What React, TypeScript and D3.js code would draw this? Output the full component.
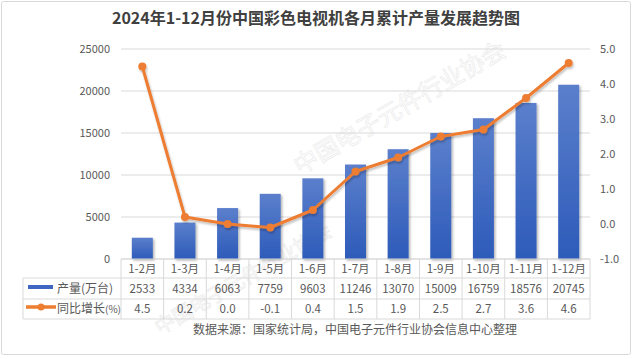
import React from "react";
import * as d3 from "d3";

const categories = ["1-2月", "1-3月", "1-4月", "1-5月", "1-6月", "1-7月", "1-8月", "1-9月", "1-10月", "1-11月", "1-12月"];
const production = [2533, 4334, 6063, 7759, 9603, 11246, 13070, 15009, 16759, 18576, 20745];
const growth = [4.5, 0.2, 0.0, -0.1, 0.4, 1.5, 1.9, 2.5, 2.7, 3.6, 4.6];
const leftTicks = [0, 5000, 10000, 15000, 20000, 25000];
const rightTicks = [-1, 0, 1, 2, 3, 4, 5];
const title = "2024年1-12月份中国彩色电视机各月累计产量发展趋势图";
const seriesNames = ["产量(万台)", "同比增长(%)"];
const source = "数据来源：国家统计局，中国电子元件行业协会信息中心整理";
const watermark = "中国电子元件行业协会";

const W = 633, H = 359;
const plotLeft = 121, plotRight = 590, plotTop = 49, plotBottom = 259;
const FONT = "'Microsoft YaHei', 'Noto Sans CJK SC', 'Noto Sans', sans-serif";
const TXT = "#595959";
const GRID = "#d9d9d9";
const ORANGE = "#ED7D31";

export default function App() {
  const x = d3.scaleBand<string>().domain(categories).range([plotLeft, plotRight]).paddingInner(0).paddingOuter(0);
  const yL = d3.scaleLinear().domain([0, 25000]).range([plotBottom, plotTop]);
  const yR = d3.scaleLinear().domain([-1, 5]).range([plotBottom, plotTop]);
  const bw = 21;
  const line = d3.line<number>().x((_, i) => x(categories[i])! + x.bandwidth() / 2).y((d) => yR(d));
  const bandW = x.bandwidth();
  const rowTops = [259, 278, 299, 319];
  const legendLeft = 23;

  return (
    <svg width={W} height={H} style={{ position: "absolute", left: 0, top: 0, fontFamily: FONT }}>
      <defs>
        <linearGradient id="barGrad" x1="0" y1="0" x2="0" y2="1">
          <stop offset="0%" stopColor="#5B7FCC" />
          <stop offset="100%" stopColor="#2D5BB9" />
        </linearGradient>
        <filter id="shadow" x="-30%" y="-10%" width="160%" height="130%">
          <feDropShadow dx="1.5" dy="1.5" stdDeviation="1.3" floodColor="#000" floodOpacity="0.3" />
        </filter>
        <filter id="lshadow" x="-10%" y="-10%" width="120%" height="130%">
          <feDropShadow dx="1" dy="2" stdDeviation="1.2" floodColor="#000" floodOpacity="0.25" />
        </filter>
      </defs>
      <rect x={0} y={0} width={W} height={H} fill="#fff" />
      <rect x={1.5} y={1.5} width={629} height={353} fill="none" stroke={GRID} strokeWidth={1} rx={2} />

      {/* watermarks */}
      <g fill="none" stroke="#ebebeb" strokeWidth={0.7} fontSize={24}>
        <text transform="translate(300,175) rotate(-30)">{watermark}</text>
        <text transform="translate(160,335) rotate(-30)" fontSize={20}>{watermark}</text>
      </g>

      <text x={316} y={24} textAnchor="middle" fontSize={16} fontWeight="bold" fill="#404040">{title}</text>

      {/* grid */}
      {leftTicks.map((t) => (
        <line key={t} x1={plotLeft} x2={plotRight} y1={yL(t)} y2={yL(t)} stroke={GRID} strokeWidth={1} />
      ))}
      {leftTicks.map((t) => (
        <text key={"l" + t} x={110} y={yL(t) + 4} textAnchor="end" fontSize={11} fill={TXT}>{t}</text>
      ))}
      {rightTicks.map((t) => (
        <text key={"r" + t} x={600} y={yR(t) + 4} textAnchor="start" fontSize={11} fill={TXT}>{t.toFixed(1)}</text>
      ))}

      {/* bars */}
      <g filter="url(#shadow)">
        {production.map((v, i) => {
          const cx = x(categories[i])! + bandW / 2;
          return <rect key={i} x={cx - bw / 2} y={yL(v)} width={bw} height={plotBottom - yL(v)} fill="url(#barGrad)" />;
        })}
      </g>

      {/* line */}
      <g filter="url(#lshadow)">
        <path d={line(growth)!} fill="none" stroke={ORANGE} strokeWidth={3} strokeLinejoin="round" />
        {growth.map((v, i) => (
          <circle key={i} cx={x(categories[i])! + bandW / 2} cy={yR(v)} r={4} fill={ORANGE} />
        ))}
      </g>

      {/* data table */}
      <g stroke={GRID} strokeWidth={1} fill="none">
        <line x1={plotLeft} x2={plotRight} y1={rowTops[0]} y2={rowTops[0]} />
        <line x1={legendLeft} x2={plotRight} y1={rowTops[1]} y2={rowTops[1]} />
        <line x1={legendLeft} x2={plotRight} y1={rowTops[2]} y2={rowTops[2]} />
        <line x1={legendLeft} x2={plotRight} y1={rowTops[3]} y2={rowTops[3]} />
        <line x1={legendLeft} x2={legendLeft} y1={rowTops[1]} y2={rowTops[3]} />
        {categories.map((c) => (
          <line key={c} x1={x(c)!} x2={x(c)!} y1={rowTops[0]} y2={rowTops[3]} />
        ))}
        <line x1={plotRight} x2={plotRight} y1={rowTops[0]} y2={rowTops[3]} />
      </g>
      {categories.map((c, i) => {
        const cx = x(c)! + bandW / 2;
        return (
          <g key={c} fontSize={11.5} fill={TXT} textAnchor="middle">
            <text x={cx} y={273}>{c}</text>
            <text x={cx} y={293}>{production[i]}</text>
            <text x={cx} y={313}>{growth[i].toFixed(1)}</text>
          </g>
        );
      })}
      <rect x={28} y={285} width={25} height={4} fill="#3F66C0" />
      <text x={57} y={293} fontSize={12} fill={TXT}>{seriesNames[0]}</text>
      <line x1={26} x2={56} y1={307} y2={307} stroke={ORANGE} strokeWidth={3.5} />
      <circle cx={41} cy={307} r={3.5} fill={ORANGE} />
      <text x={57} y={313} fontSize={12} fill={TXT}>
        {seriesNames[1].slice(0, 4)}<tspan fontSize={10}>{seriesNames[1].slice(4)}</tspan>
      </text>

      <text x={355} y={334} textAnchor="middle" fontSize={12} fill={TXT}>{source}</text>
    </svg>
  );
}
